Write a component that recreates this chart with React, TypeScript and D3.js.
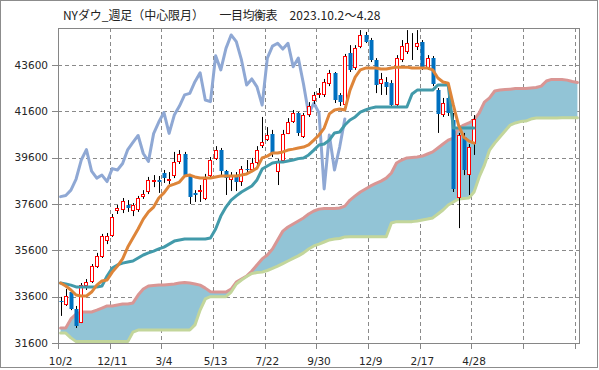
import { useRef, useEffect } from "react";
import * as d3 from "d3";

// x axis labels, one every 10 weeks
const tickLabels = ["10/2", "12/11", "3/4", "5/13", "7/22", "9/30", "12/9", "2/17", "4/28"];
const yTicks = [31600, 33600, 35600, 37600, 39600, 41600, 43600];

// weekly candles
const open = [
  33430, 33240, 33800, 33050, 32480, 34040, 34230, 34900, 35330, 36020,
  36220, 37280, 37340, 37560, 37280, 37340, 37900, 38100, 38530, 38640,
  38920, 38610, 38790, 39410, 39780, 38850, 38080, 38100, 37820, 38790,
  39560, 39950, 39020, 38640, 38850, 38570, 39130, 39090, 39350, 40100,
  40380, 40640, 39000, 39440, 40640, 41140, 41530, 40510, 41440, 42030,
  42310, 42310, 42780, 43240, 42310, 41870, 44110, 43460, 44390, 44900,
  44680, 43820, 42770, 42880, 42810, 41870, 43820, 44180, 44270, 44360,
  44590, 43470, 43900, 42520, 41440, 42180, 41230, 37860, 40490, 38850,
  40190,
];
const high = [
  33590, 33930, 33930, 33200, 34190, 34360, 35010, 35490, 36310, 36350,
  37170, 37560, 37860, 37770, 37640, 37950, 38200, 38770, 38850, 38810,
  39070, 38980, 39850, 39930, 39850, 38900, 38200, 38420, 38900, 39630,
  40100, 40020, 39070, 38980, 38980, 39240, 39500, 39590, 40100, 41360,
  40920, 40800, 39540, 40800, 41310, 41660, 41570, 41530, 42000, 42440,
  42610, 43000, 43390, 43300, 42390, 44080, 44460, 44460, 45110, 45030,
  44770, 43900, 43260, 43080, 42950, 44030, 44680, 45110, 44980, 45110,
  44680, 44030, 43990, 42610, 42180, 42310, 41530, 40670, 40670, 40190,
  41440,
];
const low = [
  32770, 33200, 33020, 32250, 32460, 33890, 34190, 34840, 35270, 35870,
  36180, 37170, 37210, 37260, 37080, 37260, 37820, 38030, 38330, 38080,
  38510, 38460, 38720, 39330, 38810, 37600, 37690, 37690, 37770, 38720,
  39500, 38810, 37990, 38160, 38160, 38380, 38980, 38980, 39280, 40020,
  40320, 39630, 38420, 39370, 40620, 41100, 40540, 40450, 41360, 41920,
  42180, 42220, 42690, 41960, 41830, 41740, 43300, 43390, 44330, 44550,
  43730, 42390, 42310, 42310, 41790, 41790, 43730, 44080, 43820, 44250,
  43390, 43390, 42690, 40670, 41360, 41400, 38120, 36560, 38850, 37990,
  39720,
];
const close = [
  33350, 33610, 33070, 32330, 34100, 34250, 34920, 35360, 36200, 36220,
  37040, 37410, 37710, 37430, 37560, 37840, 38050, 38640, 38640, 38570,
  38720, 38680, 39410, 39780, 38850, 37920, 37970, 38200, 38680, 39500,
  39950, 39020, 38720, 38850, 38570, 39130, 39070, 39350, 39950, 40260,
  40560, 39780, 39440, 40640, 41140, 41550, 40650, 41440, 41830, 42310,
  42380, 42880, 43270, 42090, 42020, 44000, 43390, 44320, 44900, 44610,
  43820, 42740, 43000, 42660, 41870, 43900, 44420, 44540, 44290, 44540,
  43530, 43900, 42780, 41490, 41960, 41530, 38250, 40580, 39070, 40060,
  41270,
];

// 転換線
const tenkan = [
  34190, 34060, 33890, 33670, 33630, 33630, 33800, 34100, 34280, 34320,
  34660, 34920, 35230, 35740, 36130, 36520, 36950, 37260, 37470, 37860,
  38080, 38380, 38460, 38550, 38810, 38850, 38770, 38720, 38720, 38720,
  38770, 38810, 38810, 38810, 38810, 38850, 38900, 39020, 39150, 39590,
  39670, 39800, 39800, 39850, 39930, 39970, 40020, 40060, 40150, 40360,
  40580, 40880, 41490, 41660, 41700, 41660, 42520, 43080, 43390, 43470,
  43470, 43470, 43430, 43430, 43470, 43510, 43510, 43510, 43470, 43470,
  43470, 43470, 43390, 43040, 42870, 42820, 41870, 41010, 40490, 40320,
  40230,
];
// 基準線
const kijun = [
  34190, 34150, 34100, 34020, 34020, 34020, 34020, 34020, 34060, 34490,
  34840, 34970, 35050, 35100, 35140, 35270, 35400, 35490, 35570, 35660,
  35740, 35870, 36000, 36050, 36090, 36090, 36090, 36090, 36090, 36130,
  36520, 37080, 37470, 37770, 37950, 38120, 38250, 38380, 38640, 39110,
  39240, 39370, 39410, 39410, 39460, 39500, 39560, 39590, 39720, 39930,
  40150, 40190, 40360, 40670, 40710, 41010, 41230, 41360, 41570, 41660,
  41740, 41790, 41790, 41790, 41790, 41790, 41790, 41790, 42350, 42520,
  42520, 42520, 42520, 42740, 42740, 42740, 40880, 40880, 40880, 40880,
  40880,
];
// 先行スパン1
const senkouA = [
  32250, 32250, 32640, 32850, 32940, 32940, 32940, 33020, 33110, 33200,
  33200, 33240, 33280, 33280, 33330, 33670, 33930, 34060, 34080, 34100,
  34100, 34130, 34150, 34190, 34210, 34190, 34150, 34100, 33970, 33810,
  33800, 33800, 33800, 33930, 34230, 34360, 34490, 34710, 34970, 35230,
  35400, 35660, 36050, 36430, 36610, 36740, 36870, 37000, 37170, 37300,
  37380, 37410, 37410, 37410, 37430, 37510, 37770, 37950, 38120, 38250,
  38380, 38490, 38590, 38720, 38940, 39370, 39500, 39590, 39610, 39630,
  39670, 39760, 39850, 40020, 40190, 40360, 40450, 40880, 41010, 41100,
  41230, 41530, 42000, 42180, 42480, 42520, 42540, 42560, 42590, 42590,
  42590, 42610, 42630, 42690, 42910, 42980, 42980, 42980, 42950, 42890,
  42850,
];
// 先行スパン2
const senkouB = [
  32030, 32030, 31820, 31660, 31660, 31660, 31660, 31660, 31660, 31660,
  31660, 31660, 31660, 31660, 32070, 32160, 32160, 32160, 32160, 32160,
  32160, 32160, 32160, 32160, 32160, 32160, 32380, 33020, 33500, 33600,
  33600, 33600, 33600, 33800, 34150, 34320, 34470, 34600, 34640, 34660,
  34730, 34820, 34920, 35030, 35140, 35250, 35360, 35490, 35660, 35790,
  35870, 35960, 36050, 36090, 36110, 36180, 36190, 36190, 36190, 36190,
  36190, 36190, 36190, 36190, 36780, 36840, 36840, 36840, 36840, 36870,
  36910, 36950, 37000, 37170, 37340, 37560, 37690, 37820, 37840, 37860,
  38120, 38770, 39280, 39930, 40230, 40490, 40750, 41010, 41100, 41160,
  41180, 41270, 41310, 41310, 41310, 41310, 41310, 41330, 41330, 41330,
  41330,
];
// 遅行スパン: close plotted 25 weeks back
const chikou = close.slice(25);

// title pieces: start x and advance width of each
const titleParts = ["NYダウ_週足（中心限月）", "一目均衡表", "2023.10.2～4.28"];
const titleX = [63, 219.5, 289.5];
const titleW = [141, 58, 91];

export default function App() {
  const svgRef = useRef<SVGSVGElement>(null);

  useEffect(() => {
    if (!svgRef.current) return;
    const svg = d3.select(svgRef.current);
    svg.selectAll("*").remove();

    const plot = { left: 58, right: 580, top: 28, bottom: 343 };
    const n = senkouA.length;
    const x = d3.scaleBand<number>().domain(d3.range(n)).range([plot.left, plot.right]);
    const cx = (i: number) => x(i)! + x.bandwidth() / 2;
    const y = d3.scaleLinear().domain([31600, 45200]).range([plot.bottom, plot.top]);
    const crisp = (v: number) => Math.round(v) + 0.5;

    // background + outer frame
    svg.append("rect")
      .attr("x", 0.5).attr("y", 0.5).attr("width", 597).attr("height", 367)
      .attr("fill", "#ffffff").attr("stroke", "#8c8c8c");

    titleParts.forEach((t, k) => {
      svg.append("text")
        .attr("x", titleX[k]).attr("y", 19.5)
        .attr("font-family", "'Noto Sans CJK JP', sans-serif")
        .attr("font-size", 12).attr("fill", "#222")
        .attr("textLength", titleW[k]).attr("lengthAdjust", "spacing")
        .text(t);
    });

    const grid = svg.append("g")
      .attr("stroke", "#8a8a8a").attr("stroke-dasharray", "4,3").attr("stroke-width", 1);
    yTicks.slice(1).forEach((v) => {
      grid.append("line")
        .attr("x1", plot.left).attr("x2", plot.right)
        .attr("y1", crisp(y(v))).attr("y2", crisp(y(v)));
    });
    d3.range(10, n, 10).forEach((i) => {
      grid.append("line")
        .attr("x1", crisp(x(i)!)).attr("x2", crisp(x(i)!))
        .attr("y1", plot.top).attr("y2", plot.bottom);
    });

    // cloud
    const area = d3.area<number>()
      .x((_, i) => cx(i))
      .y0((_, i) => y(senkouB[i]))
      .y1((d) => y(d));
    svg.append("path").datum(senkouA).attr("d", area).attr("fill", "#92c4d6");

    const line = d3.line<number>().x((_, i) => cx(i)).y((d) => y(d));
    const drawLine = (data: number[], color: string, w = 3) =>
      svg.append("path")
        .datum(data)
        .attr("d", line)
        .attr("fill", "none")
        .attr("stroke", color)
        .attr("stroke-width", w)
        .attr("stroke-linejoin", "round")
        .attr("stroke-linecap", "round");

    drawLine(senkouA, "#d99694");
    drawLine(senkouB, "#c3d69b");
    drawLine(chikou, "#8fa8d4");

    // candles
    const candles = svg.append("g");
    open.forEach((o, i) => {
      const c = close[i];
      const bx = Math.round(cx(i));
      candles.append("line")
        .attr("x1", bx + 0.5).attr("x2", bx + 0.5)
        .attr("y1", y(high[i])).attr("y2", y(low[i]))
        .attr("stroke", "#000").attr("stroke-width", 1);
      const top = Math.round(y(Math.max(o, c)));
      const bot = Math.round(y(Math.min(o, c)));
      if (c >= o) {
        candles.append("rect")
          .attr("x", bx - 1.5).attr("y", top + 0.5)
          .attr("width", 3).attr("height", Math.max(bot - top - 1, 0))
          .attr("fill", "#ffffff").attr("stroke", "#ff0000").attr("stroke-width", 1);
      } else {
        candles.append("rect")
          .attr("x", bx - 1.5).attr("y", top)
          .attr("width", 4).attr("height", Math.max(bot - top, 1))
          .attr("fill", "#0070c0");
      }
    });

    drawLine(kijun, "#429aaa");
    drawLine(tenkan, "#de8539");

    // plot frame
    const frame = svg.append("g").attr("stroke", "#868686").attr("stroke-width", 1).attr("fill", "none");
    frame.append("rect")
      .attr("x", plot.left + 0.5).attr("y", plot.top + 0.5)
      .attr("width", plot.right - plot.left - 1).attr("height", plot.bottom - plot.top);

    // y axis
    const yAxis = svg.append("g").attr("font-family", "'DejaVu Sans', sans-serif").attr("font-size", 10.5);
    yTicks.forEach((v) => {
      const yy = crisp(y(v));
      yAxis.append("line")
        .attr("x1", plot.left - 6).attr("x2", plot.left)
        .attr("y1", yy).attr("y2", yy).attr("stroke", "#868686");
      yAxis.append("text")
        .attr("x", 48).attr("y", y(v)).attr("dy", "0.35em")
        .attr("text-anchor", "end").attr("fill", "#262626")
        .text(v);
    });

    // x axis
    const xAxis = svg.append("g").attr("font-family", "'DejaVu Sans', sans-serif").attr("font-size", 10.5);
    d3.range(0, n, 10).forEach((i) => {
      xAxis.append("line")
        .attr("x1", crisp(x(i)!)).attr("x2", crisp(x(i)!))
        .attr("y1", plot.bottom).attr("y2", plot.bottom + 6).attr("stroke", "#868686");
    });
    tickLabels.forEach((t, k) => {
      xAxis.append("text")
        .attr("x", cx(k * 10)).attr("y", 365)
        .attr("text-anchor", "middle").attr("fill", "#262626")
        .text(t);
    });
  }, []);

  return (
    <svg
      ref={svgRef}
      width={599}
      height={370}
      style={{ position: "absolute", left: 0, top: 0, display: "block" }}
    />
  );
}
